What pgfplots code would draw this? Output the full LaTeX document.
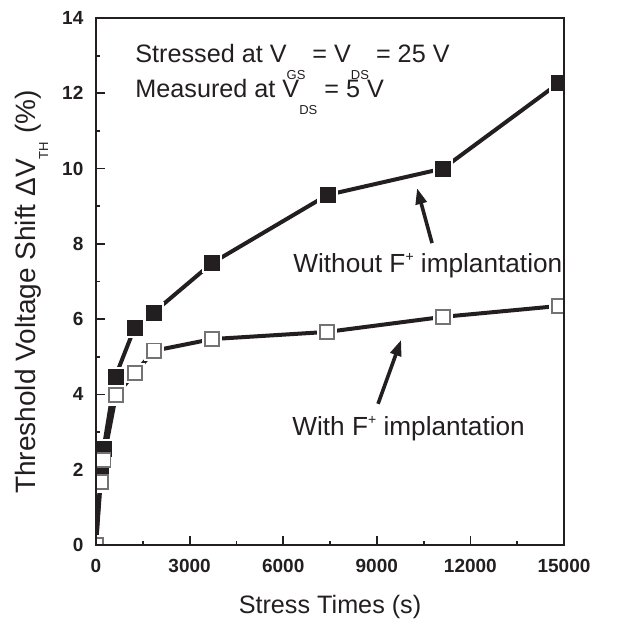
\documentclass[border=0pt]{standalone}
\usepackage{fontspec}
\setmainfont{Liberation Sans}
\usepackage{pgfplots}
\usepackage{pgfplotstable}
\pgfplotsset{compat=1.18}
\usetikzlibrary{arrows.meta}

\definecolor{ink}{RGB}{35,31,32}
\definecolor{rim}{RGB}{115,115,115}
% Origin-style dropped subscript and raised superscript
\newcommand{\sub}[2][8.5pt]{\raisebox{-#1}{\fontsize{6.5}{7}\selectfont #2}}
\newcommand{\sups}[1]{\raisebox{5.2pt}{\fontsize{7}{7}\selectfont #1}}

\pgfplotstableread{
t v
0 0
150 1.92
240 2.55
620 4.47
1240 5.78
1850 6.18
3720 7.49
7420 9.30
11120 10.00
14830 12.27
}\without

\pgfplotstableread{
t v
0 0
150 1.67
240 2.26
640 3.98
1250 4.57
1855 5.16
3720 5.47
7400 5.66
11120 6.06
14840 6.35
}\withF

\begin{document}
\begin{tikzpicture}
\begin{axis}[
    scale only axis,
    width=234pt, height=263.5pt,
    xmin=0, xmax=15000, ymin=0, ymax=14,
    xtick={0,3000,...,15000}, ytick={0,2,...,14},
    minor x tick num=1, minor y tick num=1,
    tick align=inside, xtick pos=bottom, ytick pos=left,
    major tick length=4.5pt, minor tick length=2.2pt,
    every tick/.style={ink, line width=0.9pt},
    axis line style={ink, line width=1pt},
    scaled x ticks=false,
    /pgf/number format/1000 sep={},
    /pgf/number format/assume math mode=true,
    tick label style={font=\fontsize{9.5}{11}\selectfont\bfseries, text=ink},
    xticklabel style={yshift=-3.5pt},
    yticklabel style={xshift=-2.8pt},
    label style={text=ink},
    xlabel={Stress Times (s)},
    xlabel style={font=\fontsize{12.6}{15}\selectfont,
        at={(axis description cs:0.5,0)}, anchor=base, yshift=-34pt},
    ylabel={Threshold Voltage Shift ΔV\sub[6.5pt]{TH} (\%)},
    ylabel style={font=\fontsize{14}{16}\selectfont,
        at={(axis description cs:-0.1303,0.48)}, anchor=base},
    clip mode=individual,
    clip marker paths=true,
    axis on top,
]
% connecting lines
\addplot[ink, line width=2pt, mark=none] table[x=t, y=v] {\without};
\addplot[ink, line width=2pt, mark=none] table[x=t, y=v] {\withF};
% white halos leave a gap between line and symbol
\addplot[only marks, mark=square*, mark size=4.9pt, mark options={draw=white, fill=white}] table[x=t, y=v] {\without};
\addplot[only marks, mark=square*, mark size=4.9pt, mark options={draw=white, fill=white}] table[x=t, y=v] {\withF};
% symbols
\addplot[only marks, mark=square*, mark size=3.75pt, mark options={draw=ink, fill=ink, line width=0.3pt}] table[x=t, y=v] {\without};
\addplot[only marks, mark=square*, mark size=3.55pt, mark options={draw=rim, fill=white, line width=0.8pt}] table[x=t, y=v] {\withF};

\node[anchor=base west, inner sep=0, font=\fontsize{12.6}{15}\selectfont, text=ink]
    at (axis cs:1250,12.82) {Stressed at V\sub{GS} = V\sub{DS} = 25 V};
\node[anchor=base west, inner sep=0, font=\fontsize{12.6}{15}\selectfont, text=ink]
    at (axis cs:1250,11.90) {Measured at V\sub{DS} = 5 V};
\node[anchor=base west, inner sep=0, font=\fontsize{13.1}{15}\selectfont, text=ink]
    at (axis cs:6314,7.25) {Without F\sups{+} implantation};
\node[anchor=base west, inner sep=0, font=\fontsize{13.1}{15}\selectfont, text=ink]
    at (axis cs:6282,2.92) {With F\sups{+} implantation};

\draw[ink, line width=1.8pt, -{Triangle[length=8pt, width=5.5pt]}]
    (axis cs:10770,8.02) -- (axis cs:10290,9.48);
\draw[ink, line width=1.8pt, -{Triangle[length=8pt, width=5.5pt]}]
    (axis cs:9040,3.75) -- (axis cs:9780,5.45);
\end{axis}
\pgfresetboundingbox
\path[use as bounding box]
    ([xshift=-48pt, yshift=-37pt]current axis.south west)
    rectangle ([xshift=27pt, yshift=9pt]current axis.north east);
\end{tikzpicture}
\end{document}
